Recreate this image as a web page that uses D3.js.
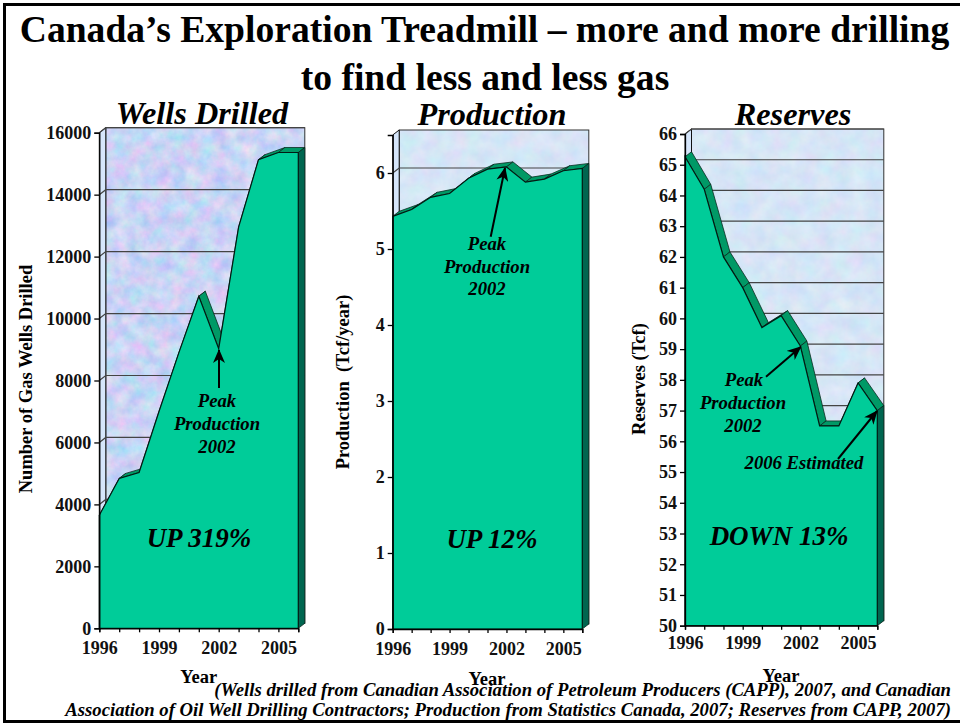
<!DOCTYPE html>
<html>
<head>
<meta charset="utf-8">
<script src="https://cdn.jsdelivr.net/npm/d3@7/dist/d3.min.js"></script>
<style>
html,body{margin:0;padding:0;background:#fff}
svg{display:block}
text{font-family:"Liberation Serif",serif;font-weight:bold;fill:#000}
</style>
</head>
<body>
<svg id="chart" width="960" height="723"></svg>
<script>
// Gas industry figures, 1996-2006
const years = [1996,1997,1998,1999,2000,2001,2002,2003,2004,2005,2006];
const yearLabels = [1996,1999,2002,2005];
const wellsDrilled = [3650,4840,5030,7000,8900,10720,9030,12950,15130,15360,15360];
const production = [5.43,5.52,5.68,5.73,5.93,6.05,6.08,5.88,5.92,6.03,6.06];
const reserves = [65.26,64.2,62.0,61.0,59.7,60.09,59.1,56.5,56.5,57.9,57.0];
const wellsTicks = [0,2000,4000,6000,8000,10000,12000,14000,16000];
const productionTicks = [0,1,2,3,4,5,6];
const reservesTicks = [50,51,52,53,54,55,56,57,58,59,60,61,62,63,64,65,66];
const titleLines = ["Canada\u2019s Exploration Treadmill \u2013 more and more drilling","to find less and less gas"];
const sourceLines = ["(Wells drilled from Canadian Association of Petroleum Producers (CAPP), 2007, and Canadian",
  "Association of Oil Well Drilling Contractors; Production from Statistics Canada, 2007; Reserves from CAPP, 2007)"];

const FRONT="#00cc99", TOP="#009966", SIDE="#006650";
const DX=6.5, DY=5;
const svg=d3.select("#chart");
const defs=svg.append("defs");

// Mottled wallpaper for the chart back walls
function wallTexture(id,seed,freq,m){
  const f=defs.append("filter").attr("id",id).attr("x",0).attr("y",0).attr("width","100%").attr("height","100%")
    .attr("color-interpolation-filters","sRGB");
  f.append("feTurbulence").attr("type","fractalNoise").attr("baseFrequency",freq).attr("numOctaves",4).attr("seed",seed);
  f.append("feColorMatrix").attr("type","matrix").attr("values",m);
}
wallTexture("wallLilac",7,0.07,"0.38 0 0 0 0.6  0 0.22 0 0 0.72  0 0 0.08 0 0.92  0 0 0 0 1");
wallTexture("wallPale",3,0.06,"0.14 0 0 0 0.77  0 0.1 0 0 0.85  0 0 0.05 0 0.94  0 0 0 0 1");
defs.append("marker").attr("id","head").attr("viewBox","0 0 14 12").attr("refX",13).attr("refY",6)
  .attr("markerWidth",14).attr("markerHeight",12).attr("markerUnits","userSpaceOnUse").attr("orient","auto")
  .append("path").attr("d","M0,0 L14,6 L0,12 L4,6 Z").attr("fill","#000");

// Page frame
svg.append("path").attr("d","M960,4.5 H4.5 V721.5 H960").attr("fill","none").attr("stroke","#000").attr("stroke-width",3);

svg.selectAll("text.title").data(titleLines).join("text").attr("class","title")
  .attr("x",(d,i)=>i?485:484.5).attr("y",(d,i)=>i?90:42).attr("text-anchor","middle").attr("font-size",37.6).text(d=>d);

const panels=[
 {name:"Wells Drilled",nameX:202,nameY:124,values:wellsDrilled,ticks:wellsTicks,domain:[0,16000],
  x:[99.3,298.3],y:[628.3,132.7],wall:"wallLilac",axisTitle:"Number of Gas Wells Drilled",axisTitleX:32,axisTitleY:379,
  yearX:198.7,yearY:683,pad:9,big:"UP 319%",bigX:199,bigY:547,
  notes:[{t:"Peak",x:217,y:407},{t:"Production",x:217,y:430},{t:"2002",x:217,y:453}],
  arrows:[[219,388,219,350]]},
 {name:"Production",nameX:492,nameY:125,values:production,ticks:productionTicks,domain:[0,6.5],
  x:[392.7,582.3],y:[629,135],wall:"wallPale",axisTitle:"Production  (Tcf/year)",axisTitleX:349,axisTitleY:382,
  yearX:487,yearY:685,pad:9,big:"UP 12%",bigX:492,bigY:548,
  notes:[{t:"Peak",x:487,y:250},{t:"Production",x:487,y:273},{t:"2002",x:487,y:295}],
  arrows:[[490.7,236.7,505,168]]},
 {name:"Reserves",nameX:793,nameY:125,values:reserves,ticks:reservesTicks,domain:[50,66],
  x:[685,877.3],y:[625.7,134],wall:"wallPale",axisTitle:"Reserves (Tcf)",axisTitleX:645,axisTitleY:379,
  yearX:781,yearY:682,pad:7,big:"DOWN 13%",bigX:779,bigY:545,
  notes:[{t:"Peak",x:744,y:386},{t:"Production",x:743,y:409},{t:"2002",x:743,y:432},{t:"2006 Estimated",x:804,y:469}],
  arrows:[[766,376.7,800.7,347],[838,459,877,411]]}
];

panels.forEach(p=>{
  const x=d3.scaleLinear().domain([years[0],years[years.length-1]]).range(p.x);
  const y=d3.scaleLinear().domain(p.domain).range(p.y);
  const [x0,x1]=p.x, [y0,yTop]=p.y;
  const g=svg.append("g");

  // back wall and left wall
  g.append("rect").attr("x",x0+DX).attr("y",yTop-DY).attr("width",x1-x0).attr("height",y0-yTop)
    .attr("filter",`url(#${p.wall})`);
  g.append("rect").attr("x",x0+DX).attr("y",yTop-DY).attr("width",x1-x0).attr("height",y0-yTop)
    .attr("fill","none").attr("stroke","#333").attr("stroke-width",1);
  g.append("path").attr("d",`M${x0},${y0} L${x0+DX},${y0-DY} V${yTop-DY} L${x0},${yTop} Z`)
    .attr("fill","#d6e6fb").attr("stroke","#111").attr("stroke-width",1);

  // gridlines on the wall, stepping across the left wall from each tick
  g.selectAll("path.grid").data(p.ticks.slice(1)).join("path").attr("class","grid")
    .attr("d",d=>`M${x0},${y(d)} L${x0+DX},${y(d)-DY} H${x1+DX}`)
    .attr("fill","none").attr("stroke","#444").attr("stroke-width",1.2);

  // upper faces of the extruded area, one per year interval
  const pts=p.values.map((v,i)=>[x(years[i]),y(v)]);
  g.selectAll("path.face").data(d3.pairs(pts)).join("path").attr("class","face")
    .attr("d",([a,b])=>`M${a[0]},${a[1]} L${a[0]+DX},${a[1]-DY} L${b[0]+DX},${b[1]-DY} L${b[0]},${b[1]} Z`)
    .attr("fill",TOP).attr("stroke","#0a2b20").attr("stroke-width",0.8);

  // right end face
  const last=pts[pts.length-1];
  g.append("path").attr("d",`M${last[0]},${last[1]} L${last[0]+DX},${last[1]-DY} V${y0-DY} L${last[0]},${y0} Z`)
    .attr("fill",SIDE).attr("stroke","#06261c").attr("stroke-width",0.8);

  // front area
  const area=d3.area().x((d,i)=>x(years[i])).y0(y0).y1(d=>y(d));
  g.append("path").attr("d",area(p.values)).attr("fill",FRONT).attr("stroke","#021a12").attr("stroke-width",1.2);

  // axes
  const ya=d3.axisLeft(y).tickValues(p.ticks).tickSize(5).tickPadding(3).tickFormat(d3.format("d"));
  const ga=g.append("g").attr("transform",`translate(${x0},0)`).call(ya);
  ga.selectAll("text").attr("font-size",18).style("fill","#111");
  const xa=d3.axisBottom(x).tickValues(years).tickSize(4).tickPadding(p.pad)
    .tickFormat(d=>yearLabels.includes(d)?d:"");
  const gb=g.append("g").attr("transform",`translate(0,${y0})`).call(xa);
  gb.selectAll("text").attr("font-size",18).style("fill","#111");
  [ga,gb].forEach(a=>{a.selectAll("line,path").attr("stroke","#000").attr("stroke-width",1.3);a.attr("font-family",null);});

  // titles
  g.append("text").attr("x",p.nameX).attr("y",p.nameY).attr("text-anchor","middle").attr("font-size",32.3)
    .attr("font-style","italic").text(p.name);
  g.append("text").attr("transform",`translate(${p.axisTitleX},${p.axisTitleY}) rotate(-90)`)
    .attr("text-anchor","middle").attr("font-size",18.5).style("white-space","pre").text(p.axisTitle);
  g.append("text").attr("x",p.yearX).attr("y",p.yearY).attr("text-anchor","middle").attr("font-size",18.5).text("Year");

  // callouts
  g.selectAll("text.note").data(p.notes).join("text").attr("class","note")
    .attr("x",d=>d.x).attr("y",d=>d.y).attr("text-anchor","middle").attr("font-size",18.7).attr("font-style","italic").text(d=>d.t);
  g.selectAll("line.arrow").data(p.arrows).join("line").attr("class","arrow")
    .attr("x1",d=>d[0]).attr("y1",d=>d[1]).attr("x2",d=>d[2]).attr("y2",d=>d[3])
    .attr("stroke","#000").attr("stroke-width",2).attr("marker-end","url(#head)");
  g.append("text").attr("x",p.bigX).attr("y",p.bigY).attr("text-anchor","middle").attr("font-size",27)
    .attr("font-style","italic").text(p.big);
});

svg.selectAll("text.source").data(sourceLines).join("text").attr("class","source")
  .attr("x",951).attr("y",(d,i)=>i?716:696).attr("text-anchor","end").attr("font-size",18.7)
  .attr("font-style","italic").text(d=>d);
</script>
</body>
</html>
